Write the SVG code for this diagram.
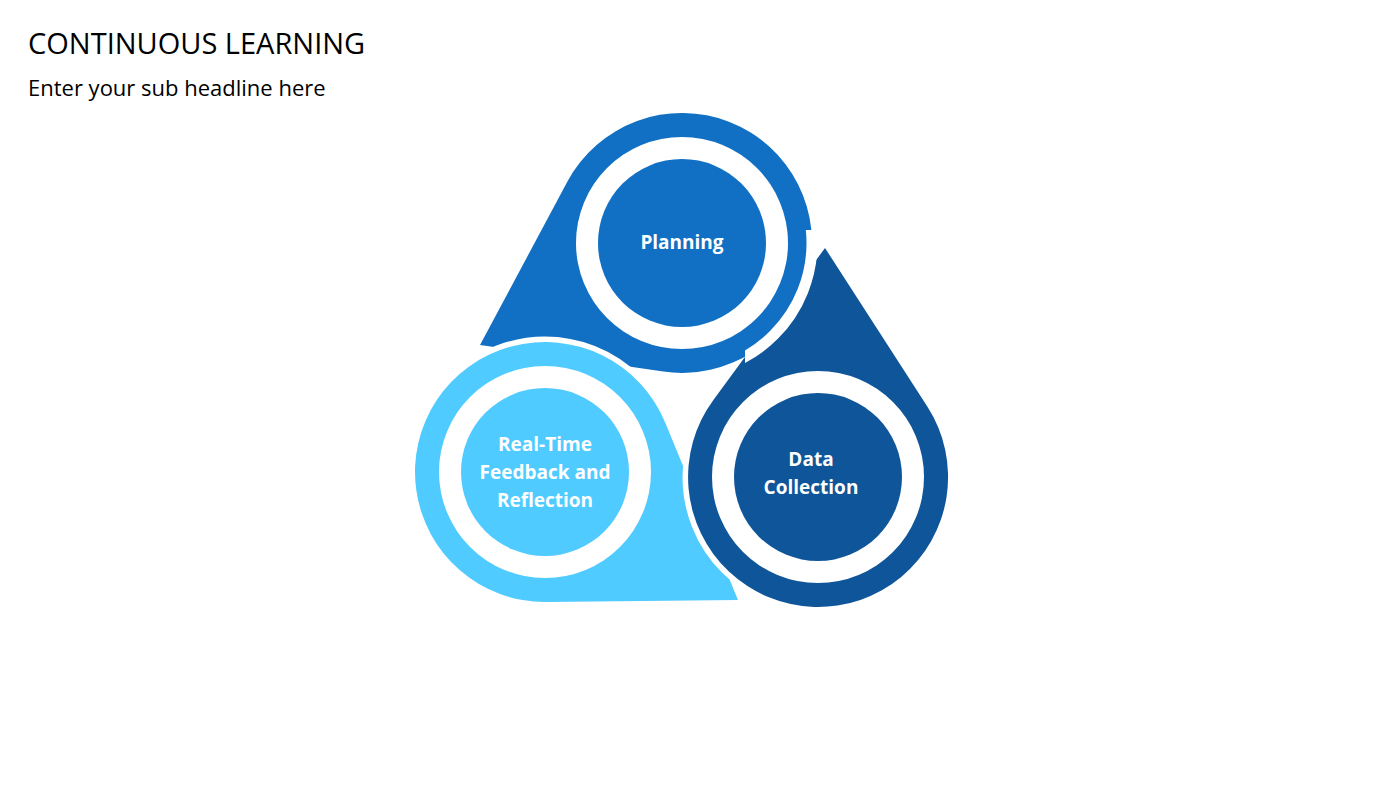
<svg xmlns="http://www.w3.org/2000/svg" width="1400" height="788" viewBox="0 0 1400 788">
<defs>
<style>
.t{font-family:"Open Sans","Liberation Sans",sans-serif;fill:#000}
.l{font-family:"Open Sans","Liberation Sans",sans-serif;font-weight:bold;font-size:19px;fill:#fff;text-anchor:middle}
.gap{stroke:#fff;stroke-width:11}
</style>
<clipPath id="cr"><rect x="745" y="230" width="200" height="200"/></clipPath>
</defs>
<rect width="1400" height="788" fill="#fff"/>
<text class="t" x="28" y="54" font-size="29">CONTINUOUS LEARNING</text>
<text class="t" x="28" y="96" font-size="22">Enter your sub headline here</text>
<g id="planning">
<path d="M480 345 L567.3 181.8 A130 130 0 1 1 663.3 371.6 Z" fill="#1170C4"/>
<circle cx="682" cy="243" r="106" fill="#fff"/>
<circle cx="682" cy="243" r="84" fill="#1170C4"/>
<text class="l" x="682" y="249">Planning</text>
</g>
<g id="realtime">
<circle cx="545" cy="472" r="130" class="gap" fill="#4FCBFF"/>
<path d="M738 600 L546.1 602 A130 130 0 1 1 665.3 422.7 Z" fill="#4FCBFF"/>
<circle cx="545" cy="472" r="106" fill="#fff"/>
<circle cx="545" cy="472" r="84" fill="#4FCBFF"/>
<text class="l" x="545" y="451">Real-Time</text>
<text class="l" x="545" y="479">Feedback and</text>
<text class="l" x="545" y="507">Reflection</text>
</g>
<g id="data">
<circle cx="818" cy="477" r="130" class="gap" fill="#0F5599"/>
<path d="M825 248 L927.3 406.5 A130 130 0 1 1 713.4 399.9 Z" fill="#0F5599"/>
<circle cx="818" cy="477" r="106" fill="#fff"/>
<circle cx="818" cy="477" r="84" fill="#0F5599"/>
<text class="l" x="811" y="466">Data</text>
<text class="l" x="811" y="494">Collection</text>
</g>
<g id="planning-overlap" clip-path="url(#cr)">
<circle cx="682" cy="243" r="130" class="gap" fill="#1170C4"/>
<circle cx="682" cy="243" r="106" fill="#fff"/>
<circle cx="682" cy="243" r="84" fill="#1170C4"/>
</g>
<g id="connectors"/>
</svg>
